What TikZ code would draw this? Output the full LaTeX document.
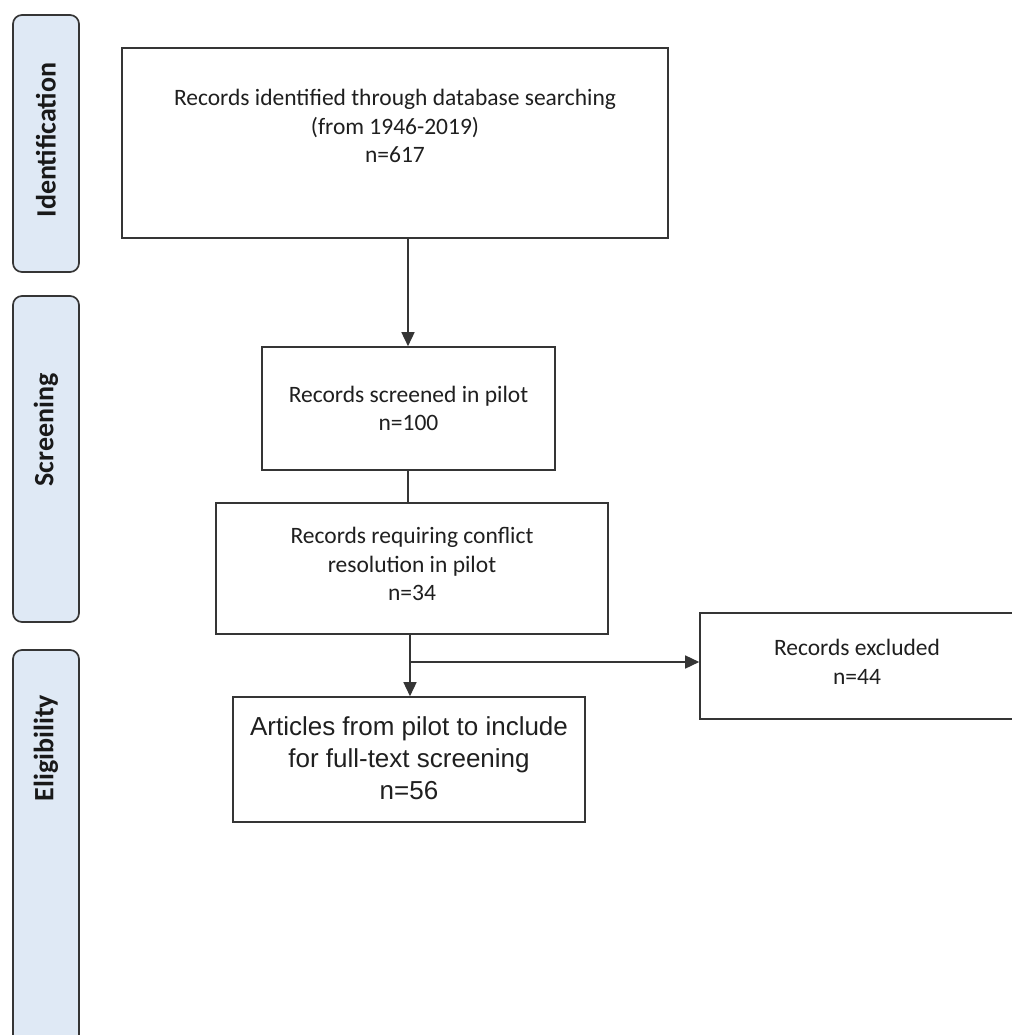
\documentclass[tikz,border=0pt]{standalone}
\usepackage{fontspec}
\setmainfont{Carlito}
\newfontfamily\arialfont{Liberation Sans}
\usetikzlibrary{arrows.meta}
\definecolor{phasefill}{HTML}{DFE9F5}
\definecolor{edgegray}{HTML}{353535}
\begin{document}
\begin{tikzpicture}[x=1pt,y=-1pt,
  phasebox/.style={draw=edgegray, fill=phasefill, line width=1.7pt, rounded corners=9pt, inner sep=0pt},
  phaselbl/.style={rotate=90, font=\bfseries\fontsize{28}{32}\selectfont, text=black!90},
  flowbox/.style={draw=edgegray, line width=1.6pt, inner sep=0pt},
  flowtxt/.style={align=center, font=\fontsize{23.5}{28.5}\selectfont, text=black!88},
  arialtxt/.style={align=center, font=\arialfont\fontsize{26}{32}\selectfont, text=black!88},
  conn/.style={draw=edgegray, line width=1.5pt},
  arr/.style={conn, -{Triangle[length=14pt,width=13pt]}}
]
\useasboundingbox (0,0) rectangle (1011,1035);
\fill[white] (0,0) rectangle (1011,1035);

% phase boxes
\node[phasebox, minimum width=66pt, minimum height=257pt] (p1) at (46,143.5) {};
\node[phaselbl] (p1t) at (46,140) {Identification};
\node[phasebox, minimum width=66pt, minimum height=326pt] (p2) at (46,459) {};
\node[phaselbl] (p2t) at (46,430) {Screening};
\node[phasebox, minimum width=66pt, minimum height=440pt] (p3) at (46,870) {};
\node[phaselbl] (p3t) at (46,748) {Eligibility};

% flow boxes
\node[flowbox, minimum width=546pt, minimum height=190pt] (b1) at (395,143) {};
\node[flowtxt, anchor=north] (b1t) at (395,86) {Records identified through database searching\\(from 1946-2019)\\n=617};

\node[flowbox, minimum width=293pt, minimum height=123pt] (b2) at (408.5,408.5) {};
\node[flowtxt] (b2t) at (b2.center) {Records screened in pilot\\n=100};

\node[flowbox, minimum width=392pt, minimum height=131pt] (b3) at (412,568.5) {};
\node[flowtxt] (b3t) at (412,564) {Records requiring conflict\\resolution in pilot\\n=34};

\node[flowbox, minimum width=360pt, minimum height=106pt] (ex) at (880,666) {};
\node[flowtxt] (ext) at (857,662) {Records excluded\\n=44};

\node[flowbox, minimum width=352pt, minimum height=125pt] (b4) at (409,759.5) {};
\node[arialtxt] (b4t) at (409,758) {Articles from pilot to include\\for full-text screening\\n=56};

% connectors
\coordinate (ax) at (408,0);
\coordinate (bx) at (410,0);
\coordinate (split) at (410,662);
\draw[arr] (b1.south -| ax) -- (b2.north -| ax);
\draw[conn] (b2.south -| ax) -- (b3.north -| ax);
\draw[arr] (b3.south -| bx) -- (b4.north -| bx);
\draw[arr] (split) -- (split -| ex.west);
\end{tikzpicture}
\end{document}
